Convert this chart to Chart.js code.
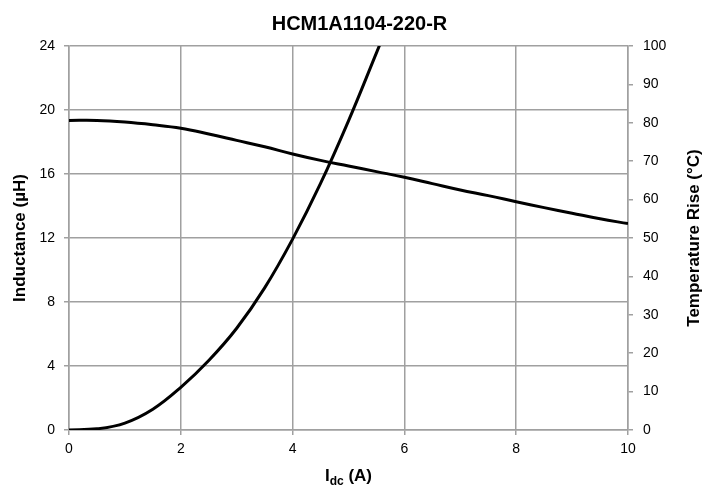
<!DOCTYPE html>
<html>
<head>
<meta charset="utf-8">
<script src="https://cdn.jsdelivr.net/npm/chart.js@4"></script>
<style>
  body { margin: 0; background: #fff; }
</style>
</head>
<body>
<canvas id="myChart" width="719" height="491"></canvas>
<script>
// inductance curve
const currentL = [0, 0.5, 1, 1.5, 2, 2.5, 3, 3.5, 4, 4.5, 5, 5.5, 6, 6.5, 7, 7.5, 8, 8.5, 9, 9.5, 10]
const inductance = [19.35, 19.35, 19.25, 19.08, 18.86, 18.5, 18.1, 17.7, 17.25, 16.85, 16.5, 16.15, 15.8, 15.4, 15.0, 14.65, 14.27, 13.9, 13.55, 13.2, 12.9]
// temperature rise curve
const currentT = [0, 0.5, 1, 1.5, 2, 2.5, 3, 3.5, 4, 4.5, 5, 5.5, 5.6]
const tempRise = [0, 0.3, 1.8, 5.4, 11.1, 18.1, 26.5, 37, 49.7, 64.2, 80.5, 98.2, 101.8]
// ticks
const xTicks = [0, 2, 4, 6, 8, 10]
const leftTicks = [0, 4, 8, 12, 16, 20, 24]
const rightTicks = [0, 10, 20, 30, 40, 50, 60, 70, 80, 90, 100]

Chart.defaults.font.family = '"Liberation Sans", Arial, sans-serif'
Chart.defaults.color = '#000'

const gridColor = '#a0a0a0'
const boldFont = size => 'bold ' + size + 'px "Liberation Sans", Arial, sans-serif'

// x axis title with subscript, and right axis title reading bottom-to-top
const axisTitles = {
    id: 'axisTitles',
    afterDraw(chart) {
        const ctx = chart.ctx
        const area = chart.chartArea
        ctx.save()
        ctx.fillStyle = '#000'
        ctx.textBaseline = 'alphabetic'
        ctx.font = boldFont(17)
        const w1 = ctx.measureText('I').width
        const w3 = ctx.measureText(' (A)').width
        ctx.font = boldFont(12)
        const w2 = ctx.measureText('dc').width
        let x = (area.left + area.right) / 2 - (w1 + w2 + w3) / 2
        const y = 481
        ctx.font = boldFont(17)
        ctx.fillText('I', x, y)
        x += w1
        ctx.font = boldFont(12)
        ctx.fillText('dc', x, y + 4)
        x += w2
        ctx.font = boldFont(17)
        ctx.fillText(' (A)', x, y)

        ctx.translate(694, (area.top + area.bottom) / 2)
        ctx.rotate(-Math.PI / 2)
        ctx.textAlign = 'center'
        ctx.textBaseline = 'middle'
        ctx.fillText('Temperature Rise (°C)', 0, 0)
        ctx.restore()
    }
}

new Chart(document.getElementById('myChart').getContext('2d'), {
    type: 'line',
    data: {
        datasets: [
            {
                label: 'Inductance',
                data: currentL.map((x, i) => ({ x: x, y: inductance[i] })),
                yAxisID: 'y',
                borderColor: '#000',
                borderWidth: 3,
                pointRadius: 0,
                tension: 0.4
            },
            {
                label: 'Temperature Rise',
                data: currentT.map((x, i) => ({ x: x, y: tempRise[i] })),
                yAxisID: 'y1',
                borderColor: '#000',
                borderWidth: 3,
                pointRadius: 0,
                tension: 0.4
            }
        ]
    },
    options: {
        responsive: false,
        animation: false,
        layout: { padding: 0 },
        plugins: {
            legend: { display: false },
            tooltip: { enabled: false },
            title: {
                display: true,
                text: 'HCM1A1104-220-R',
                color: '#000',
                font: { size: 20, weight: 'bold' },
                padding: { top: 12, bottom: 10 }
            }
        },
        scales: {
            x: {
                type: 'linear',
                min: 0,
                max: 10,
                afterBuildTicks: s => { s.ticks = xTicks.map(v => ({ value: v })) },
                afterFit: s => { s.height = 61 },
                ticks: { font: { size: 14 }, padding: 6, maxRotation: 0 },
                grid: { color: gridColor, lineWidth: 1.5, tickLength: 5 },
                border: { color: gridColor, width: 1.5 }
            },
            y: {
                position: 'left',
                min: 0,
                max: 24,
                afterBuildTicks: s => { s.ticks = leftTicks.map(v => ({ value: v })) },
                afterFit: s => { s.width = 69 },
                ticks: { font: { size: 14 }, padding: 9 },
                grid: { color: gridColor, lineWidth: 1.5, tickLength: 5 },
                border: { color: gridColor, width: 1.5 },
                title: {
                    display: true,
                    text: 'Inductance (µH)',
                    color: '#000',
                    font: { size: 17, weight: 'bold' },
                    padding: { top: 10, bottom: 0 }
                }
            },
            y1: {
                position: 'right',
                min: 0,
                max: 100,
                afterBuildTicks: s => { s.ticks = rightTicks.map(v => ({ value: v })) },
                afterFit: s => { s.width = 91 },
                ticks: { font: { size: 14 }, padding: 10 },
                grid: { drawOnChartArea: false, color: gridColor, lineWidth: 1.5, tickLength: 5 },
                border: { color: gridColor, width: 1.5 }
            }
        }
    },
    plugins: [axisTitles]
})
</script>
</body>
</html>
